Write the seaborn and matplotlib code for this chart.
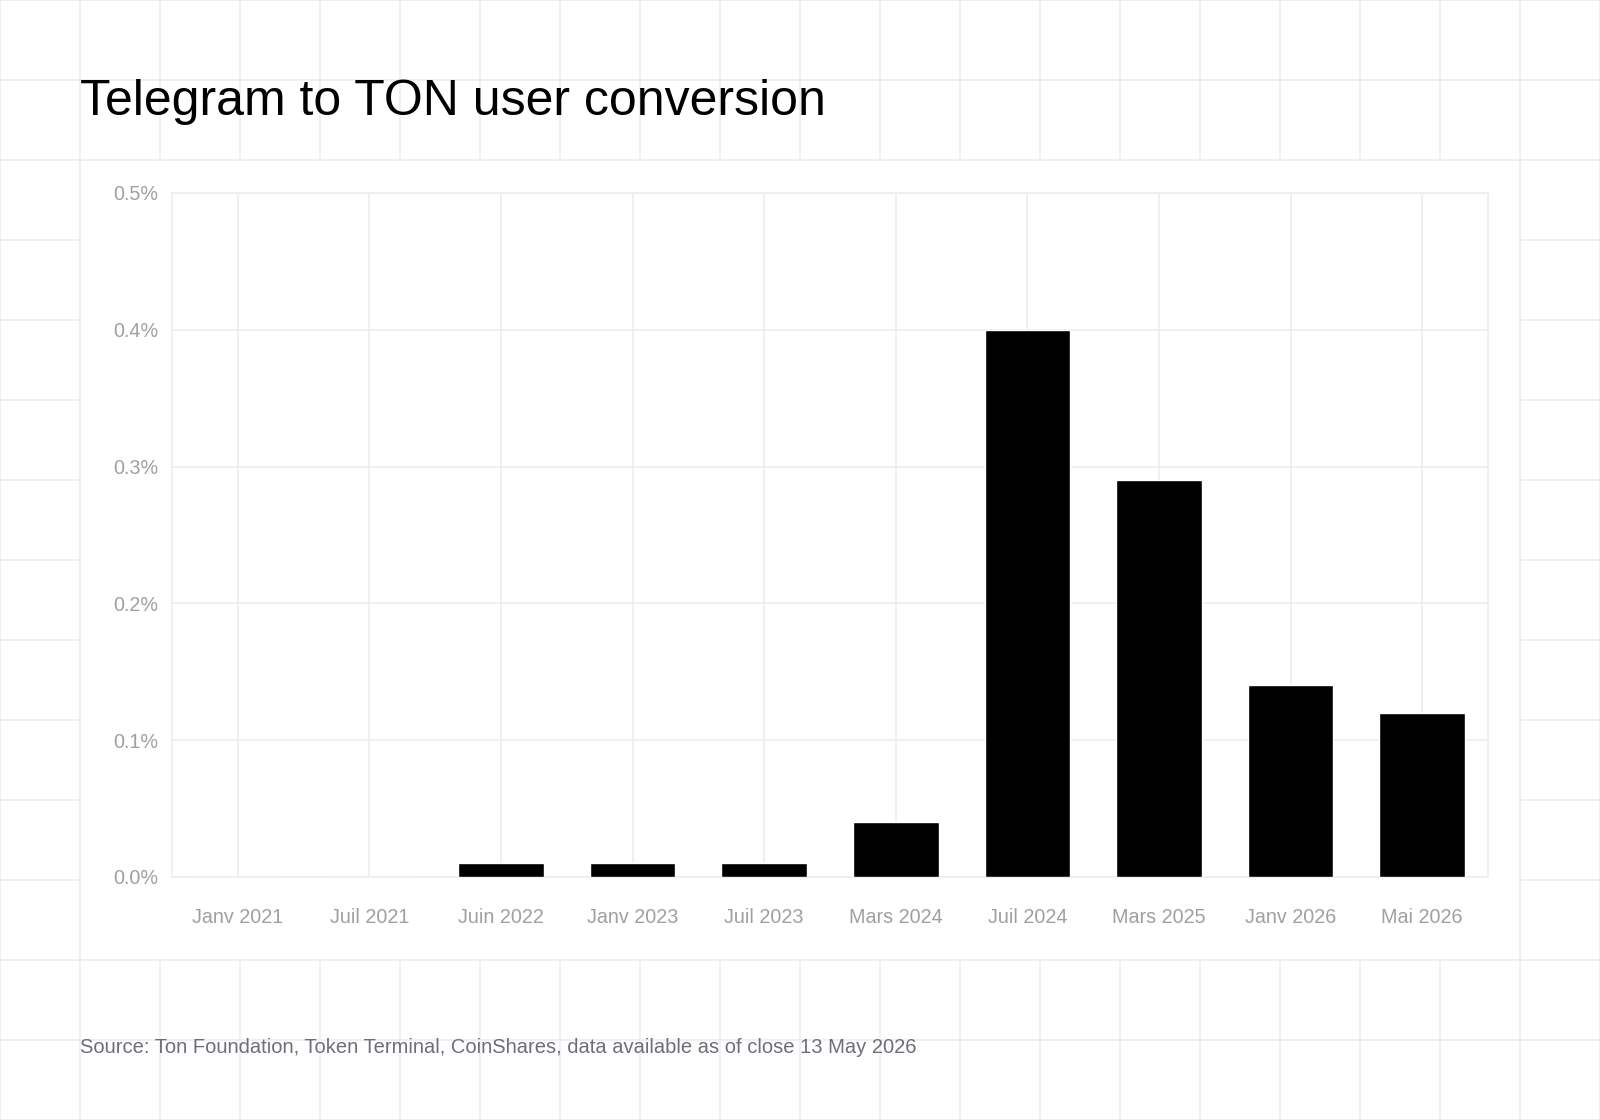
import matplotlib
matplotlib.use("Agg")
import matplotlib.pyplot as plt
import matplotlib.patches as mpatches
from matplotlib.ticker import FuncFormatter
import seaborn as sns
import pandas as pd

# data
periods = ['Janv 2021', 'Juil 2021', 'Juin 2022', 'Janv 2023', 'Juil 2023',
           'Mars 2024', 'Juil 2024', 'Mars 2025', 'Janv 2026', 'Mai 2026']
conversion_pct = [0.0, 0.0, 0.01, 0.01, 0.01, 0.04, 0.40, 0.29, 0.14, 0.12]
y_ticks = [0.0, 0.1, 0.2, 0.3, 0.4, 0.5]

title = 'Telegram to TON user conversion'
source = 'Source: Ton Foundation, Token Terminal, CoinShares, data available as of close 13 May 2026'

df = pd.DataFrame({'Period': periods, 'Conversion': conversion_pct})

sns.set_style('white')
plt.rcParams['font.family'] = ['Liberation Sans', 'DejaVu Sans']

W, H = 1600, 1120
grid_col = '#f0f0f0'
fig = plt.figure(figsize=(16, 11.2), dpi=100)

# background squared paper
bg = fig.add_axes([0, 0, 1, 1], zorder=0)
bg.set_xlim(0, W)
bg.set_ylim(H, 0)
bg.axis('off')
for gx in range(0, W + 1, 80):
    bg.axvline(gx, color=grid_col, lw=1.5)
for gy in range(0, H + 1, 80):
    bg.axhline(gy, color=grid_col, lw=1.5)
bg.add_patch(mpatches.Rectangle((80, 160), 1440, 800, facecolor='white',
                                edgecolor=grid_col, lw=1.5, zorder=3))

# main chart
ax = fig.add_axes([172 / W, 1 - 877 / H, (1488 - 172) / W, (877 - 193) / H], zorder=1)
ax.set_facecolor('white')
sns.barplot(data=df, x='Period', y='Conversion', color='black', width=0.65,
            saturation=1, ax=ax, zorder=3)
ax.set_xlim(-0.5, len(periods) - 0.5)
ax.set_ylim(0, 0.5)
ax.set_yticks(y_ticks)
ax.yaxis.set_major_formatter(FuncFormatter(lambda v, p: f'{v:.1f}%'))
ax.set_xlabel('')
ax.set_ylabel('')
ax.grid(True, color='#ececec', lw=1.1, zorder=0)
ax.set_axisbelow(True)
for s in ax.spines.values():
    s.set_visible(True)
    s.set_color('#ececec')
    s.set_linewidth(1.1)
ax.tick_params(axis='both', length=0, labelsize=14.2, labelcolor='#a0a0a0')
ax.tick_params(axis='y', pad=10)
ax.tick_params(axis='x', pad=22)

fig.text(80 / W, 1 - 115 / H, title, fontsize=36, color='black', va='baseline', ha='left')
fig.text(80 / W, 1 - 1053 / H, source, fontsize=14.5, color='#6e6e78', va='baseline', ha='left')

fig.savefig('out.png', dpi=100)
